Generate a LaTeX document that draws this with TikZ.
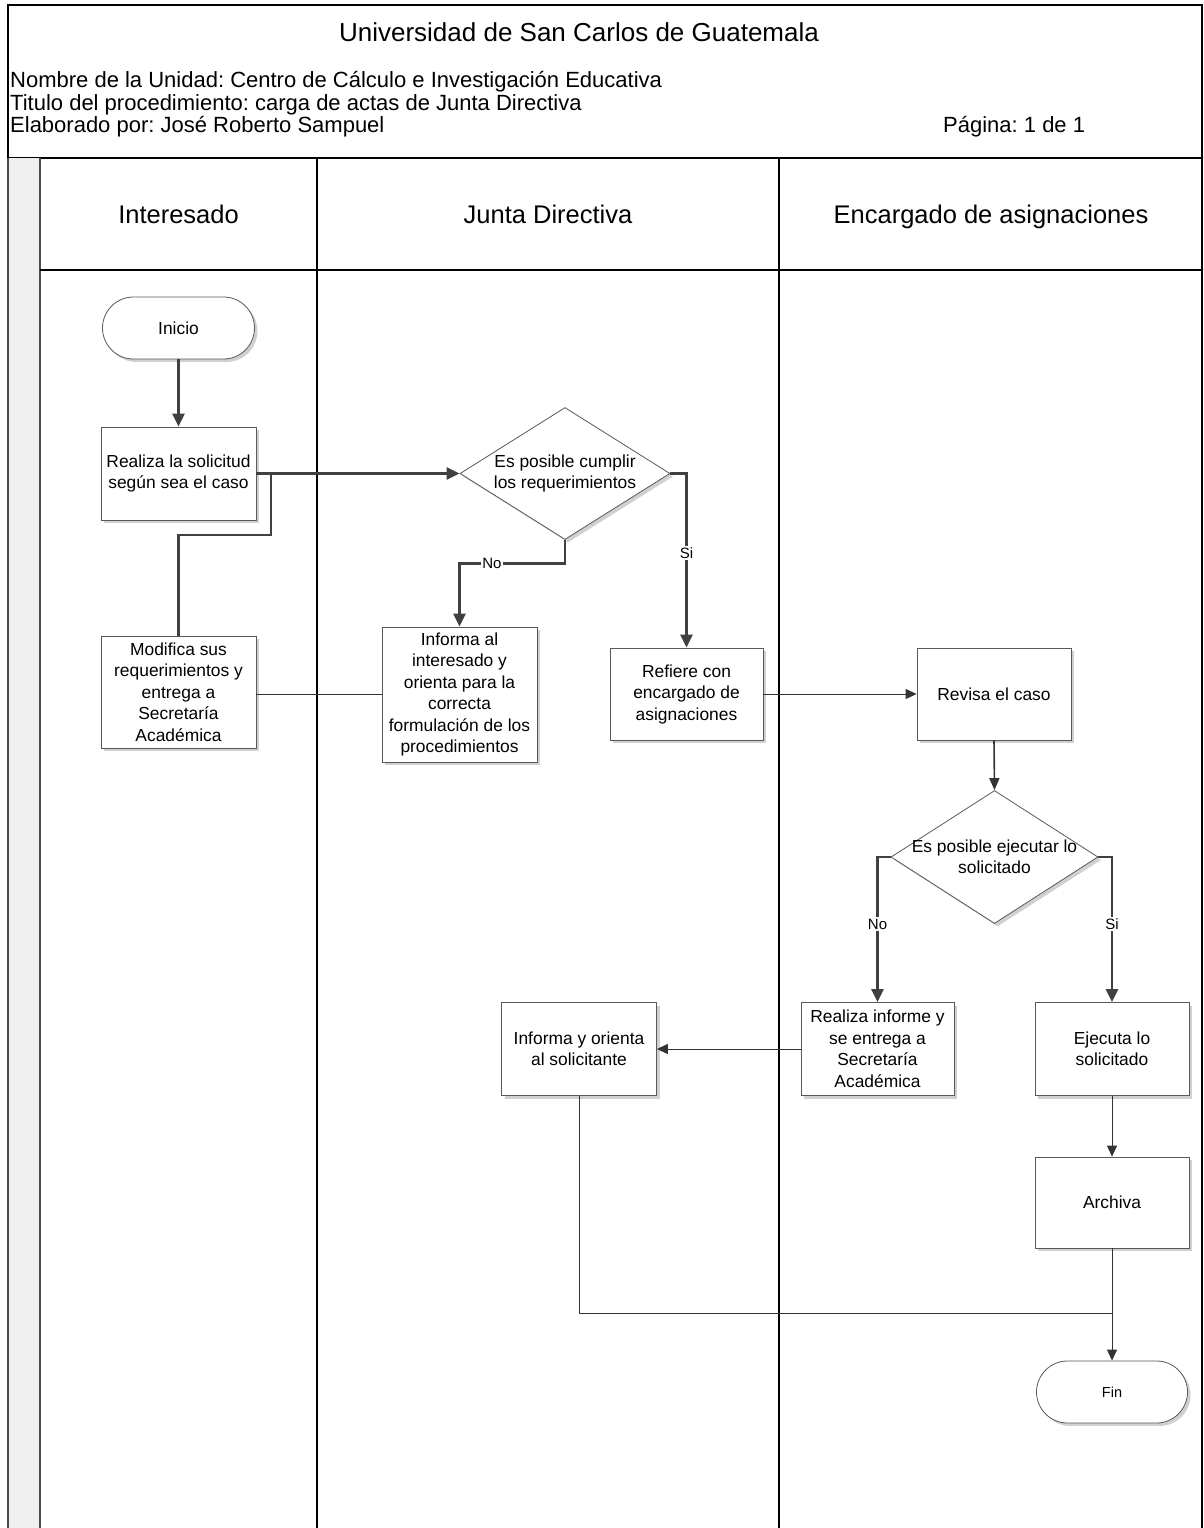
\documentclass[tikz,border=0pt]{standalone}
\usepackage{fontspec}
\setmainfont{Liberation Sans}
\usetikzlibrary{arrows.meta,shapes.geometric,shapes.misc,shadows}
\definecolor{conn}{HTML}{404040}
\definecolor{stripgray}{HTML}{EFEFEF}
\frenchspacing
\begin{document}
\begin{tikzpicture}[x=1pt,y=-1pt,
  shadowed/.style={drop shadow={shadow xshift=3pt,shadow yshift=-3pt,fill=black!30,opacity=0.6}},
  nodefont/.style={font=\fontsize{17.4}{21.5}\selectfont},
  box/.style={rectangle,draw=black!65,line width=0.8pt,fill=white,align=center,inner sep=1pt,nodefont,shadowed},
  term/.style={rounded rectangle,draw=black!65,line width=0.8pt,fill=white,align=center,inner sep=1pt,shadowed,minimum height=62pt},
  decision/.style={diamond,draw=black!65,line width=0.8pt,fill=white,inner sep=0pt,shadowed},
  dtext/.style={align=center,nodefont,inner sep=0pt},
  thickarrow/.style={draw=conn,line width=2.8pt,-{Triangle[length=13pt,width=12pt]}},
  thickline/.style={draw=conn,line width=2.8pt},
  thinarrow/.style={draw=black!80,line width=1pt,-{Triangle[length=11pt,width=10pt]}},
  medarrow/.style={draw=black!80,line width=1.6pt,-{Triangle[length=12pt,width=10pt]}},
  thinline/.style={draw=black!80,line width=1pt},
  lbl/.style={fill=white,inner sep=1.5pt,font=\fontsize{15}{15}\selectfont},
  hdr/.style={font=\fontsize{22}{22}\selectfont,inner sep=0pt},
  lane/.style={font=\fontsize{25.5}{25.5}\selectfont,inner sep=0pt,anchor=base}
]
\useasboundingbox (0,0) rectangle (1203,1528);
\fill[white] (0,0) rectangle (1203,1528);

% header frame
\draw[black,line width=1.4pt] (8,5) rectangle (1202,158);
\node[anchor=base,inner sep=0pt,font=\fontsize{26}{26}\selectfont] (title) at (579,42) {Universidad de San Carlos de Guatemala};
\node[hdr,anchor=base west] (h1) at (10,88) {Nombre de la Unidad: Centro de Cálculo e Investigación Educativa};
\node[hdr,anchor=base west] (h2) at (10,110) {Titulo del procedimiento: carga de actas de Junta Directiva};
\node[hdr,anchor=base west] (h3) at (10,132) {Elaborado por: José Roberto Sampuel};
\node[hdr,anchor=base west] (h4) at (943,132) {Página: 1 de 1};

% swimlanes
\fill[stripgray] (8,158) rectangle (40,1528);
\draw[black!70,line width=2pt] (8,158) -- (8,1528);
\draw[black!70,line width=2pt] (40,158) -- (40,1528);
\draw[black,line width=2pt] (317,158) -- (317,1528);
\draw[black,line width=2pt] (779,158) -- (779,1528);
\draw[black,line width=1.4pt] (40,270) -- (1203,270);
\draw[black,line width=1.4pt] (1202,158) -- (1202,1528);
\node[lane] (l1) at (178.5,223) {Interesado};
\node[lane] (l2) at (548,223) {Junta Directiva};
\node[lane] (l3) at (991,223) {Encargado de asignaciones};

% nodes
\node[term,minimum width=154pt,nodefont] (ini) at (178.5,328) {Inicio};
\node[box,minimum width=155pt,minimum height=93pt] (rs) at (178.5,473.5) {Realiza la solicitud\\según sea el caso};
\node[box,minimum width=155pt,minimum height=112pt] (mod) at (178.5,692) {Modifica sus\\requerimientos y\\entrega a\\Secretaría\\Académica};
\node[decision,minimum width=210pt,minimum height=132pt] (d1) at (565,473.5) {};
\node[dtext] (d1t) at (d1) {Es posible cumplir\\los requerimientos};
\node[box,minimum width=155pt,minimum height=135pt] (inf1) at (459.5,694.5) {Informa al\\interesado y\\orienta para la\\correcta\\formulación de los\\procedimientos};
\node[box,minimum width=153pt,minimum height=92pt] (ref) at (686.5,694) {Refiere con\\encargado de\\asignaciones};
\node[box,minimum width=154pt,minimum height=92pt] (rev) at (994,694) {Revisa el caso};
\node[decision,minimum width=207pt,minimum height=133pt] (d2) at (994.5,857) {};
\node[dtext] (d2t) at (d2) {Es posible ejecutar lo\\solicitado};
\node[box,minimum width=153pt,minimum height=93pt] (rinf) at (877.5,1049) {Realiza informe y\\se entrega a\\Secretaría\\Académica};
\node[box,minimum width=154pt,minimum height=93pt] (eje) at (1112,1049) {Ejecuta lo\\solicitado};
\node[box,minimum width=155pt,minimum height=93pt] (io) at (579,1049) {Informa y orienta\\al solicitante};
\node[box,minimum width=154pt,minimum height=91pt] (arc) at (1112,1202.5) {Archiva};
\node[term,minimum width=153pt,font=\fontsize{14.5}{14.5}\selectfont] (fin) at (1112,1392) {Fin};

% connectors
\coordinate (j1) at (271,473.5);
\coordinate (j2) at (1112,1313);
\draw[thickarrow] (ini.south) -- (rs.north);
\draw[thickarrow] (rs.east) -- (d1.west);
\draw[thickline] (mod.north) |- (271,535) -- (j1);
\draw[thickarrow] (d1.south) -- (565,563.5) -| (inf1.north);
\draw[thickarrow] (d1.east) -| (ref.north);
\draw[thinline] (inf1.west) -- (inf1.west -| mod.east);
\draw[thinarrow] (ref.east) -- (rev.west);
\draw[medarrow] (rev.south) -- (d2.north);
\draw[thickarrow] (d2.west) -| (rinf.north);
\draw[thickarrow] (d2.east) -| (eje.north);
\draw[thinarrow] (rinf.west) -- (io.east);
\draw[thinarrow] (eje.south) -- (arc.north);
\draw[thinarrow] (arc.south) -- (fin.north);
\draw[thinline] (io.south) |- (j2);

% labels
\node[lbl] (no1) at (492,563.5) {No};
\node[lbl] (si1) at (686.5,553) {Si};
\node[lbl] (no2) at (877.5,924) {No};
\node[lbl] (si2) at (1112,924) {Si};
\end{tikzpicture}
\end{document}
